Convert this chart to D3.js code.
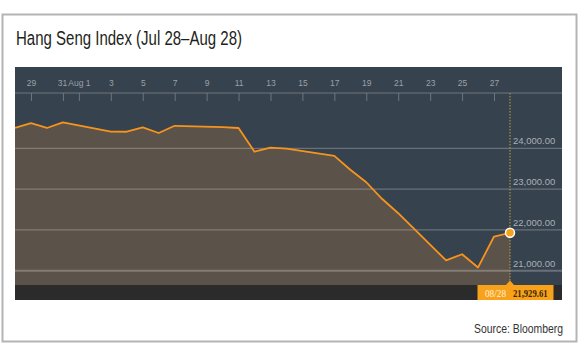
<!DOCTYPE html>
<html lang="en">
<head>
  <meta charset="UTF-8" />
  <title>Hang Seng Index</title>
  <style>
    body { margin: 0; background: #fff; }
    svg { display: block; }
  </style>
</head>
<body>
  <svg id="chart" width="580" height="358"></svg>

  <script src="https://d3js.org/d3.v7.min.js"></script>
  <script>
    // trading days, Jul 28 - Aug 28 2015
    const dates = [
      "2015-07-28", "2015-07-29", "2015-07-30", "2015-07-31",
      "2015-08-03", "2015-08-04", "2015-08-05", "2015-08-06", "2015-08-07",
      "2015-08-10", "2015-08-11", "2015-08-12", "2015-08-13", "2015-08-14",
      "2015-08-17", "2015-08-18", "2015-08-19", "2015-08-20", "2015-08-21",
      "2015-08-24", "2015-08-25", "2015-08-26", "2015-08-27", "2015-08-28"
    ];
    const closes = [
      24503, 24619, 24498, 24636,
      24411, 24406, 24514, 24375, 24552,
      24521, 24498, 23916, 24018, 23991,
      23814, 23475, 23168, 22757, 22409,
      21251, 21404, 21080, 21838, 21929.61
    ];
    const tickDays = [
      "2015-07-29", "2015-07-31", "2015-08-01", "2015-08-03", "2015-08-05",
      "2015-08-07", "2015-08-09", "2015-08-11", "2015-08-13", "2015-08-15",
      "2015-08-17", "2015-08-19", "2015-08-21", "2015-08-23", "2015-08-25",
      "2015-08-27"
    ];
    const tickLabels = ["29", "31", "Aug 1", "3", "5", "7", "9", "11", "13", "15",
                        "17", "19", "21", "23", "25", "27"];
    const yTicks = [21000, 22000, 23000, 24000];

    const parse = d3.timeParse("%Y-%m-%d");
    const data = dates.map((d, i) => ({ date: parse(d), value: closes[i] }));

    const svg = d3.select("#chart");

    // panel box
    const panel = { left: 15, right: 562, top: 67, axisY: 93, areaBottom: 285, stripBottom: 300 };

    const x = d3.scaleTime()
      .domain([parse("2015-07-28"), parse("2015-08-28")])
      .range([15, 510]);
    const y = d3.scaleLinear()
      .domain([21000, 24000])
      .range([270.7, 148.3]);

    // outer frame
    svg.append("rect")
      .attr("x", 2.5).attr("y", 14.5)
      .attr("width", 574).attr("height", 327)
      .attr("fill", "#fff")
      .attr("stroke", "#b4b4b4")
      .attr("stroke-width", 2);

    svg.append("text")
      .attr("x", 16).attr("y", 45)
      .attr("font-family", "'Liberation Sans Narrow', 'Liberation Sans', sans-serif")
      .attr("font-size", 20)
      .attr("textLength", 226)
      .attr("lengthAdjust", "spacingAndGlyphs")
      .attr("fill", "#231f20")
      .text("Hang Seng Index (Jul 28\u2013Aug 28)");

    svg.append("text")
      .attr("x", 474).attr("y", 333)
      .attr("font-family", "'Liberation Sans Narrow', 'Liberation Sans', sans-serif")
      .attr("font-size", 12)
      .attr("textLength", 89)
      .attr("lengthAdjust", "spacingAndGlyphs")
      .attr("fill", "#333")
      .text("Source: Bloomberg");

    svg.append("rect")
      .attr("x", panel.left).attr("y", panel.top)
      .attr("width", panel.right - panel.left).attr("height", panel.areaBottom - panel.top)
      .attr("fill", "#36424e");

    svg.append("rect")
      .attr("x", panel.left).attr("y", panel.areaBottom)
      .attr("width", panel.right - panel.left).attr("height", panel.stripBottom - panel.areaBottom)
      .attr("fill", "#2b2b2b");

    const area = d3.area()
      .x(d => x(d.date))
      .y0(panel.areaBottom)
      .y1(d => y(d.value));

    svg.append("path")
      .datum(data)
      .attr("d", area)
      .attr("fill", "#5b5249");

    // grid lines
    svg.append("g")
      .selectAll("line")
      .data(yTicks)
      .join("line")
      .attr("x1", panel.left).attr("x2", panel.right)
      .attr("y1", d => y(d)).attr("y2", d => y(d))
      .attr("stroke", "#fff")
      .attr("stroke-opacity", 0.25)
      .attr("stroke-width", d => d === 21000 ? 2 : 1.2);

    svg.append("g")
      .selectAll("text")
      .data(yTicks)
      .join("text")
      .attr("x", 513)
      .attr("y", d => y(d) - 4)
      .attr("font-family", "'Liberation Sans', Arial, sans-serif")
      .attr("font-size", 9.5)
      .attr("fill", "#aab0b6")
      .text(d => d3.format(",.2f")(d));

    // top axis
    svg.append("line")
      .attr("x1", panel.left).attr("x2", panel.right)
      .attr("y1", panel.axisY).attr("y2", panel.axisY)
      .attr("stroke", "#6d7780")
      .attr("stroke-width", 1);

    const xAxis = d3.axisBottom(x)
      .tickValues(tickDays.map(parse))
      .tickFormat((d, i) => tickLabels[i])
      .tickSize(8);

    const ax = svg.append("g")
      .attr("transform", `translate(0,${panel.axisY})`)
      .call(xAxis);
    ax.select(".domain").remove();
    ax.selectAll(".tick line").attr("stroke", "#6d7780");
    ax.selectAll(".tick text")
      .attr("y", -7)
      .attr("dy", 0)
      .attr("fill", "#9aa1a8")
      .attr("font-family", "'Liberation Sans', Arial, sans-serif")
      .attr("font-size", 8.5);
    ax.selectAll(".tick").filter((d, i) => tickLabels[i] === "31")
      .select("text").attr("dx", -1);

    // line
    svg.append("path")
      .datum(data)
      .attr("d", d3.line().x(d => x(d.date)).y(d => y(d.value)))
      .attr("fill", "none")
      .attr("stroke", "#f7941d")
      .attr("stroke-width", 1.8)
      .attr("stroke-linejoin", "round");

    const last = data[data.length - 1];
    const lx = x(last.date);

    svg.append("line")
      .attr("x1", lx).attr("x2", lx)
      .attr("y1", panel.axisY).attr("y2", panel.areaBottom)
      .attr("stroke", "#c29a3c")
      .attr("stroke-width", 1)
      .attr("stroke-dasharray", "1.5,1.5");

    svg.append("circle")
      .attr("cx", lx).attr("cy", y(last.value))
      .attr("r", 4.5)
      .attr("fill", "#f7a21b")
      .attr("stroke", "#fff")
      .attr("stroke-width", 1.5);

    // value label
    svg.append("rect")
      .attr("x", 477.5).attr("y", 285)
      .attr("width", 76).attr("height", 15)
      .attr("fill", "#f8a11b");
    svg.append("path")
      .attr("d", `M${lx - 4.5},285.5 L${lx},280.5 L${lx + 4.5},285.5 Z`)
      .attr("fill", "#f8a11b");
    svg.append("text")
      .attr("x", 485).attr("y", 296.5)
      .attr("font-family", "'Liberation Serif', 'DejaVu Serif', serif")
      .attr("font-size", 10.5)
      .attr("textLength", 21)
      .attr("lengthAdjust", "spacingAndGlyphs")
      .attr("fill", "#fff4dc")
      .text(d3.timeFormat("%m/%d")(last.date));
    svg.append("text")
      .attr("x", 513).attr("y", 296.5)
      .attr("font-family", "'Liberation Serif', 'DejaVu Serif', serif")
      .attr("font-size", 10.5)
      .attr("font-weight", "bold")
      .attr("textLength", 34.5)
      .attr("lengthAdjust", "spacingAndGlyphs")
      .attr("fill", "#3a2608")
      .text(d3.format(",.2f")(last.value));
  </script>
</body>
</html>
